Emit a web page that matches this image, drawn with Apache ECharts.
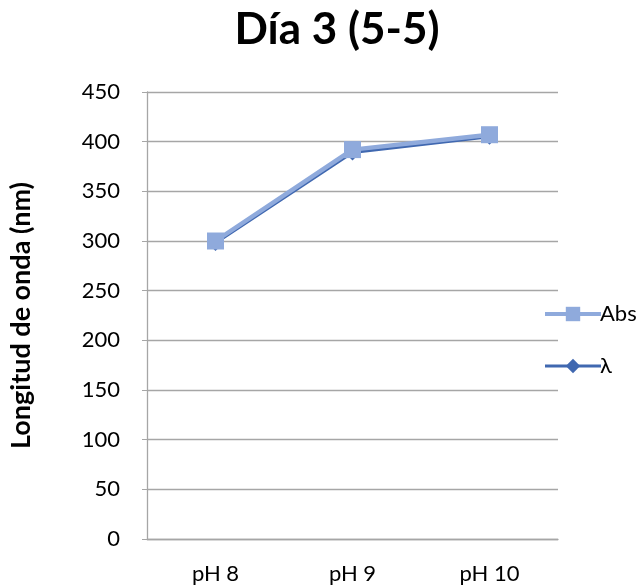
<!DOCTYPE html>
<html><head><meta charset="utf-8">
<script src="https://cdn.jsdelivr.net/npm/echarts@6/dist/echarts.min.js"></script>
<style>html,body{margin:0;padding:0;background:#fff}#c{width:641px;height:586px}</style>
</head><body><div id="c"></div>
<script>
const categories = ['pH 8', 'pH 9', 'pH 10'];
const absValues = [300, 392, 407];
const lambdaValues = [298, 389, 405];
const yTicks = {min: 0, max: 450, interval: 50};

const chart = echarts.init(document.getElementById('c'), null, {renderer: 'canvas'});
const font = 'Lato, "Open Sans", sans-serif';
chart.setOption({
  animation: false,
  title: {text: 'Día 3 (5-5)', left: 332, top: 3, textAlign: 'center',
    textStyle: {fontFamily: font, fontSize: 44, fontWeight: 'bold', color: '#000'}},
  grid: {left: 146, right: 83, top: 92, bottom: 47},
  legend: {orient: 'vertical', left: 538, top: 298, itemGap: 30, itemWidth: 56, itemHeight: 18,
    textStyle: {fontFamily: font, fontSize: 22, color: '#000', padding: [0,0,0,-6]},
    data: [{name: 'Abs', lineStyle: {width: 4}}, {name: 'λ', lineStyle: {width: 3}}]},
  xAxis: {type: 'category', data: categories, boundaryGap: true,
    axisLine: {lineStyle: {color: '#a6a6a6', width: 1.3}}, axisTick: {show: false},
    axisLabel: {fontFamily: font, fontSize: 22, color: '#000', margin: 24}},
  yAxis: {type: 'value', min: yTicks.min, max: yTicks.max, interval: yTicks.interval,
    name: 'Longitud de onda (nm)', nameLocation: 'middle', nameGap: 112,
    nameTextStyle: {fontFamily: font, fontSize: 27, fontWeight: 'bold', color: '#000'},
    axisLine: {show: true, lineStyle: {color: '#a6a6a6', width: 1.3}},
    axisTick: {show: true, length: 5, lineStyle: {color: '#a6a6a6'}},
    splitLine: {lineStyle: {color: '#a6a6a6', width: 1.3}},
    axisLabel: {fontFamily: font, fontSize: 22, color: '#000', margin: 27}},
  series: [
    {name: 'λ', type: 'line', data: lambdaValues, symbol: 'diamond', symbolSize: 16,
      lineStyle: {color: '#4068b0', width: 3}, itemStyle: {color: '#4068b0'}, z: 2},
    {name: 'Abs', type: 'line', data: absValues, symbol: 'rect', symbolSize: 17,
      lineStyle: {color: '#8faadc', width: 4.5}, itemStyle: {color: '#8faadc'}, z: 3}
  ]
});
</script></body></html>
